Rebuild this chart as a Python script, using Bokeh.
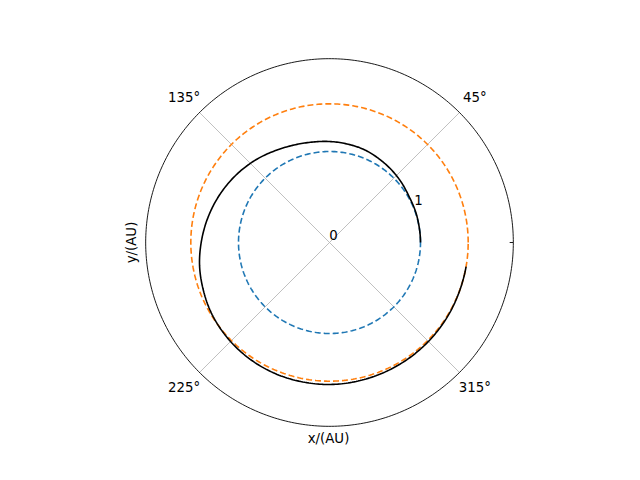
import numpy as np
from bokeh.plotting import figure
from bokeh.core.properties import value
from bokeh.embed import file_html
from bokeh.resources import INLINE

# orbits (AU)
earth_r = 1.0
mars_r = 1.524
r_max = 2.02

# transfer trajectory
traj_theta_deg = [0, 10, 20, 30, 40, 50, 60, 70, 80, 90, 100, 110, 120, 130, 140, 150, 160, 170,
                  180, 190, 200, 210, 220, 230, 240, 250, 260, 270, 280, 290, 300, 310, 320, 330, 340, 350]
traj_r = [1.00, 1.00, 1.005, 1.01, 1.03, 1.05, 1.07, 1.09, 1.10, 1.11, 1.12, 1.14, 1.17, 1.21, 1.25, 1.29,
          1.33, 1.37, 1.41, 1.45, 1.48, 1.51, 1.53, 1.545, 1.555, 1.56, 1.56, 1.56, 1.555, 1.55, 1.545,
          1.54, 1.535, 1.53, 1.525, 1.524]

grid_angles = [45, 135, 225, 315]
grid_labels = ["45°", "135°", "225°", "315°"]
r_ticks = [0, 1]

W, H = 624, 464
cx, cy, scale = 329, 242, 91.0

def px(x, y):
    return (x - cx) / scale, (cy - y) / scale

def smooth(th, r, n=12):
    # Catmull-Rom through the read points, so the curve has no corners
    th = np.asarray(th, float)
    r = np.asarray(r, float)
    thp = np.concatenate([[2 * th[0] - th[1]], th, [2 * th[-1] - th[-2]]])
    rp = np.concatenate([[2 * r[0] - r[1]], r, [2 * r[-1] - r[-2]]])
    out_t, out_r = [], []
    u = np.linspace(0, 1, n, endpoint=False)
    for i in range(1, len(thp) - 2):
        p0, p1, p2, p3 = rp[i - 1:i + 3]
        out_r.extend(0.5 * (2 * p1 + (-p0 + p2) * u + (2 * p0 - 5 * p1 + 4 * p2 - p3) * u ** 2
                            + (-p0 + 3 * p1 - 3 * p2 + p3) * u ** 3))
        out_t.extend(thp[i] + (thp[i + 1] - thp[i]) * u)
    out_t.append(th[-1])
    out_r.append(r[-1])
    return np.radians(out_t), np.array(out_r)

p = figure(width=W, height=H, output_backend="svg", toolbar_location=None,
           x_range=(-cx / scale, (W - cx) / scale), y_range=(-(H - cy) / scale, cy / scale),
           min_border=0)
p.axis.visible = False
p.grid.visible = False
p.outline_line_color = None

font = value("DejaVu Sans")
t = np.linspace(0, 2 * np.pi, 400)

# angular grid
for a in grid_angles:
    ar = np.radians(a)
    p.line([0, r_max * np.cos(ar)], [0, r_max * np.sin(ar)], line_color="#b0b0b0", line_width=0.8)

# outer frame + tick at 0
p.line(r_max * np.cos(t), r_max * np.sin(t), line_color="black", line_width=0.9)
p.line([r_max, r_max - 0.04], [0, 0], line_color="black", line_width=0.9)

p.line(earth_r * np.cos(t), earth_r * np.sin(t), line_color="#1f77b4", line_width=1.6, line_dash="6 3")
p.line(mars_r * np.cos(t), mars_r * np.sin(t), line_color="#ff7f0e", line_width=1.6, line_dash="6 3")

th, tr = smooth(traj_theta_deg, traj_r)
p.line(tr * np.cos(th), tr * np.sin(th), line_color="black", line_width=1.6)

# angle labels
lr = 2.26
lx = [lr * np.cos(np.radians(a)) for a in grid_angles]
ly = [lr * np.sin(np.radians(a)) for a in grid_angles]
p.text(x=lx, y=ly, text=grid_labels, text_align="center", text_baseline="middle",
       text_font=font, text_font_size="10pt", text_color="black")

# radial labels
rl = np.radians(22.5)
p.text(x=[r * np.cos(rl) for r in r_ticks], y=[r * np.sin(rl) for r in r_ticks],
       text=[str(r) for r in r_ticks], text_align="center", text_baseline="middle",
       x_offset=[4, 5], y_offset=[-8, -8],
       text_font=font, text_font_size="10pt", text_color="black")

xl = px(328, 438)
p.text(x=[xl[0]], y=[xl[1]], text=["x/(AU)"], text_align="center", text_baseline="middle",
       text_font=font, text_font_size="10pt", text_color="black")
yl = px(131, 242)
p.text(x=[yl[0]], y=[yl[1]], text=["y/(AU)"], text_align="center", text_baseline="middle",
       angle=np.pi / 2, text_font=font, text_font_size="10pt", text_color="black")

open("out.html", "w").write(file_html(p, INLINE))
